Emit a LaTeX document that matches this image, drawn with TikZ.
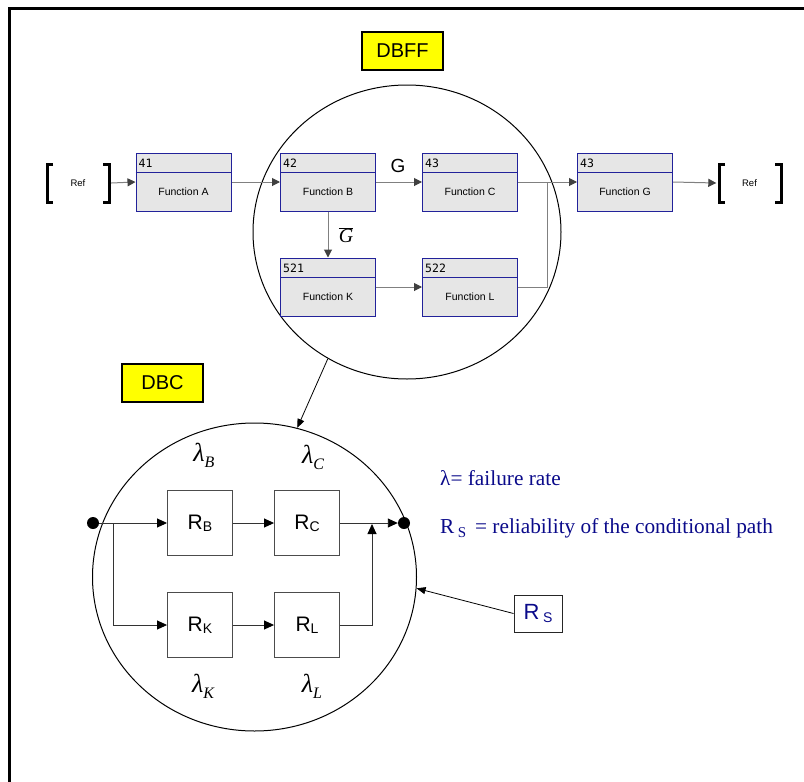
\documentclass[tikz,border=0pt]{standalone}
\usepackage{fontspec}
\setmainfont{Liberation Serif}
\setsansfont{Liberation Sans}
\setmonofont{DejaVu Sans Mono}
\usetikzlibrary{arrows.meta,shapes.geometric}
\definecolor{boxfill}{HTML}{E6E6E6}
\definecolor{boxedge}{HTML}{22229A}
\definecolor{legendblue}{HTML}{0A0A8A}
\definecolor{tagyellow}{HTML}{FFFF00}

\begin{document}
\begin{tikzpicture}[x=1pt,y=-1pt,
  fnbox/.style={draw=boxedge, fill=boxfill, line width=1pt, minimum width=95pt, minimum height=58pt, inner sep=0pt},
  fnnum/.style={font=\ttfamily\fontsize{11.5}{11.5}\selectfont, anchor=base west, inner sep=0pt},
  fntext/.style={font=\sffamily\fontsize{10.5}{11}\selectfont, inner sep=0pt},
  flow/.style={draw=black!50, line width=1pt, -{Triangle[length=8pt,width=8pt,color=black!75]}},
  plain/.style={draw=black!50, line width=1pt},
  bracket/.style={line width=3pt, line cap=butt},
  refnode/.style={minimum width=66pt, minimum height=40pt, inner sep=0pt, font=\sffamily\fontsize{9.5}{9.5}\selectfont},
  tag/.style={draw=black, line width=1.5pt, fill=tagyellow, minimum width=81pt, minimum height=38pt, inner sep=0pt, font=\sffamily\fontsize{20}{20}\selectfont},
  bigring/.style={draw=black, line width=1pt, ellipse, inner sep=0pt},
  rblock/.style={draw=black!70, line width=0.9pt, fill=white, minimum width=65pt, minimum height=65pt, inner sep=0pt, font=\sffamily\fontsize{21}{21}\selectfont},
  rflow/.style={draw=black!80, line width=0.9pt, -{Triangle[length=10pt,width=9pt,color=black]}},
  thinarrow/.style={draw=black, line width=0.8pt, -{Triangle[length=9pt,width=7pt]}},
  dot/.style={circle, fill=black, minimum size=12pt, inner sep=0pt},
  lam/.style={font=\fontsize{26}{26}\selectfont\itshape, inner sep=0pt},
  legend/.style={anchor=base west, inner sep=0pt, text=legendblue, font=\fontsize{21.3}{21.3}\selectfont}
]
\useasboundingbox (0,0) rectangle (804,782);

% page frame (top and left edges)
\draw[line width=3pt, line cap=butt] (804,8.5) -- (9.5,8.5) -- (9.5,782);

% ---------------- functional flow ----------------
\node[tag] (dbfftag) at (402.5,51) {DBFF};
\node[bigring, minimum width=308pt, minimum height=294pt] (dbff) at (407,232) {};

% reference brackets
\node[refnode] (refL) at (78,183) {Ref};
\draw[bracket] (53,164) -- (47,164) -- (47,202) -- (53,202);
\draw[bracket] (103,164) -- (109,164) -- (109,202) -- (103,202);
\node[refnode] (refR) at (749.5,183) {Ref};
\draw[bracket] (725,164) -- (719,164) -- (719,202) -- (725,202);
\draw[bracket] (775,164) -- (781,164) -- (781,202) -- (775,202);

% function blocks
\node[fnbox] (fA) at (183.5,182) {};
\node[fnbox] (fB) at (328,182) {};
\node[fnbox] (fC) at (470,182) {};
\node[fnbox] (fG) at (625,182) {};
\node[fnbox] (fK) at (328,287) {};
\node[fnbox] (fL) at (470,287) {};
\foreach \b/\num/\txt in {fA/41/Function A, fB/42/Function B, fC/43/Function C,
                          fG/43/Function G, fK/521/Function K, fL/522/Function L}{
  \draw[boxedge, line width=1pt] ([yshift=-20pt]\b.north west) -- ([yshift=-20pt]\b.north east);
  \node[fnnum] at ([xshift=3pt,yshift=-14.5pt]\b.north west) {\num};
  \node[fntext] at ([yshift=-10pt]\b.center) {\txt};
}

% flow connectors
\coordinate (join) at (547,182);
\draw[flow] (refL.east) -- (fA.west);
\draw[flow] (fA.east) -- (fB.west);
\draw[flow] (fB.east) -- (fC.west);
\draw[flow] (fC.east) -- (fG.west);
\draw[flow] (fG.east) -- (refR.west);
\draw[flow] (fB.south) -- (fK.north);
\draw[flow] (fK.east) -- (fL.west);
\draw[plain] (fL.east) -| (join);

\node[inner sep=0pt, font=\sffamily\fontsize{19}{19}\selectfont] (glab) at (398,166) {G};
\node[inner sep=0pt, font=\fontsize{20}{20}\selectfont] (gbar) at (346,235) {$\overline{\hbox{\itshape G}}$};

% ---------------- reliability block diagram ----------------
\node[tag] (dbctag) at (162.5,383) {DBC};
\node[bigring, minimum width=324pt, minimum height=308pt] (dbc) at (254.5,577) {};
\draw[thinarrow] (dbff.238) -- (dbc.74);

\node[rblock] (RB) at (200,523) {R\raisebox{-2pt}{\fontsize{14}{14}\selectfont B}};
\node[rblock] (RC) at (307,523) {R\raisebox{-2pt}{\fontsize{14}{14}\selectfont C}};
\node[rblock] (RK) at (200,625) {R\raisebox{-2pt}{\fontsize{14}{14}\selectfont K}};
\node[rblock] (RL) at (307,625) {R\raisebox{-2pt}{\fontsize{14}{14}\selectfont L}};

\node[dot] (dotL) at (93,523) {};
\node[dot] (dotR) at (404,523) {};
\coordinate (split) at (113,523);
\coordinate (merge) at (372,524);

\draw[rflow] (dotL) -- (RB.west);
\draw[rflow] (split) |- (RK.west);
\draw[rflow] (RB) -- (RC);
\draw[rflow] (RK) -- (RL);
\draw[rflow] (RC) -- (dotR);
\draw[rflow] (RL.east) -| (merge);

\node[lam] (lB) at (204,455) {λ\raisebox{-6pt}{\fontsize{16}{16}\selectfont B}};
\node[lam] (lC) at (313,457) {λ\raisebox{-6pt}{\fontsize{16}{16}\selectfont C}};
\node[lam] (lK) at (203,686) {λ\raisebox{-6pt}{\fontsize{16}{16}\selectfont K}};
\node[lam] (lL) at (312,686) {λ\raisebox{-6pt}{\fontsize{16}{16}\selectfont L}};

% legend
\node[legend] (leg1) at (440,485) {λ= failure rate};
\node[legend] (leg2) at (440,533) {R\,\raisebox{-4pt}{\fontsize{15}{15}\selectfont S}\ \,= reliability of the conditional path};

\node[draw=black!85, line width=1pt, minimum width=48pt, minimum height=37pt, inner sep=0pt,
      text=legendblue, font=\sffamily\fontsize{22}{22}\selectfont] (Rs) at (538,613.5)
      {R\,\raisebox{-3pt}{\fontsize{14}{14}\selectfont S}};
\draw[thinarrow] (Rs.west) -- (dbc.-4);
\end{tikzpicture}
\end{document}
